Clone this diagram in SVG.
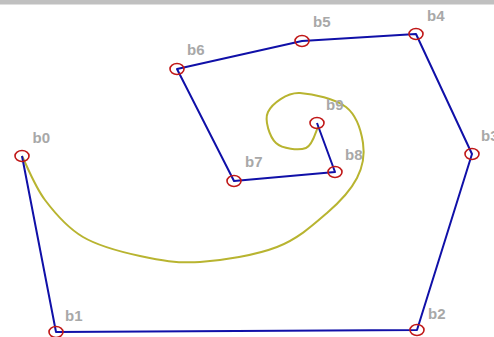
<svg xmlns="http://www.w3.org/2000/svg" width="494" height="337" viewBox="0 0 494 337">
<style>
.lbl{font-family:"Liberation Sans",Arial,sans-serif;font-size:15px;font-weight:bold;fill:#a8a8a8}
.pt{fill:none;stroke:#c01818;stroke-width:1.6}
.poly{fill:none;stroke:#1010a8;stroke-width:2;stroke-linejoin:round}
.curve{fill:none;stroke:#b8b430;stroke-width:2}
</style>
<rect x="0" y="0" width="494" height="337" fill="#ffffff"/>
<rect x="0" y="0" width="494" height="4.5" fill="#c0c0c0"/>
<g id="connectors">
<path class="curve" d="M22,156 C25.8,163.3 34.8,186.5 45,200 C55.2,213.5 67.2,227.7 83,237 C98.8,246.3 120.5,251.8 140,256 C159.5,260.2 177.2,263.5 200,262 C222.8,260.5 255.8,255.2 277,247 C298.2,238.8 313.7,224.5 327,213 C340.3,201.5 351,189.7 357,178 C363,166.3 364.8,154.8 363,143 C361.2,131.2 356.5,115.3 346,107 C335.5,98.7 313,93.8 300,93 C287,92.2 272,103.7 268,112 C264,120.3 269.7,137 276,143 C282.3,149 299,150.7 306,148 C313,145.3 316,130.5 318,127"/>
<polyline class="poly" points="22,156 56,332 417,330 472,154 416,34 302,41 177,69 234,181 335,172 317,123"/>
</g>
<g id="b0"><ellipse class="pt" cx="22" cy="156" rx="7" ry="5.5"/><text class="lbl" x="32.5" y="142.5">b0</text></g>
<g id="b1"><ellipse class="pt" cx="56" cy="332" rx="7" ry="5.5"/><text class="lbl" x="65" y="320.5">b1</text></g>
<g id="b2"><ellipse class="pt" cx="417" cy="330" rx="7" ry="5.5"/><text class="lbl" x="428" y="318.5">b2</text></g>
<g id="b3"><ellipse class="pt" cx="472" cy="154" rx="7" ry="5.5"/><text class="lbl" x="481" y="141">b3</text></g>
<g id="b4"><ellipse class="pt" cx="416" cy="34" rx="7" ry="5.5"/><text class="lbl" x="427" y="21">b4</text></g>
<g id="b5"><ellipse class="pt" cx="302" cy="41" rx="7" ry="5.5"/><text class="lbl" x="313" y="27">b5</text></g>
<g id="b6"><ellipse class="pt" cx="177" cy="69" rx="7" ry="5.5"/><text class="lbl" x="187" y="55">b6</text></g>
<g id="b7"><ellipse class="pt" cx="234" cy="181" rx="7" ry="5.5"/><text class="lbl" x="245" y="166.5">b7</text></g>
<g id="b8"><ellipse class="pt" cx="335" cy="172" rx="7" ry="5.5"/><text class="lbl" x="345" y="160">b8</text></g>
<g id="b9"><ellipse class="pt" cx="317" cy="123" rx="7" ry="5.5"/><text class="lbl" x="326" y="110">b9</text></g>
</svg>
